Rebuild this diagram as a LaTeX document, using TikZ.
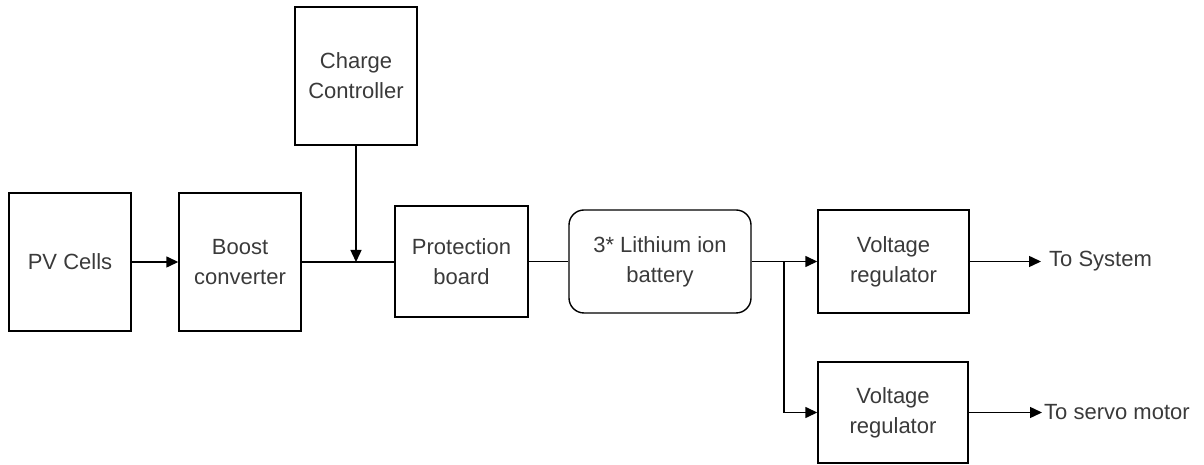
\documentclass[tikz,border=0pt]{standalone}
\usepackage{fontspec}
\setmainfont{Liberation Sans}
\usetikzlibrary{arrows.meta}
\definecolor{txt}{HTML}{3A3A3A}
\begin{document}
\begin{tikzpicture}[x=1pt,y=1pt,
  blk/.style={draw=black, line width=1.4pt, align=center, inner sep=0pt,
    font=\fontsize{22}{30}\selectfont, text=txt},
  wire/.style={line width=1.4pt, draw=black},
  arr/.style={wire, -{Triangle[length=12pt,width=11pt]}},
  lbl/.style={font=\fontsize{22}{30}\selectfont, text=txt, inner sep=0pt, anchor=west}]
\useasboundingbox (0,0) rectangle (1204,465);
\node[blk, minimum width=122, minimum height=138] (pv) at (70,203) {PV Cells};
\node[blk, minimum width=122, minimum height=138] (boost) at (240,203) {Boost\\converter};
\node[blk, minimum width=122, minimum height=138] (cc) at (356,389) {Charge\\Controller};
\node[blk, minimum width=133, minimum height=111] (prot) at (461.5,203.5) {Protection\\board};
\node[blk, rounded corners=15pt, minimum width=182, minimum height=103] (bat) at (660,203.5) {3* Lithium ion\\battery};
\node[blk, minimum width=151, minimum height=103] (vr1) at (893.5,203.5) {Voltage\\regulator};
\node[blk, minimum width=150, minimum height=101] (vr2) at (893,52.5) {Voltage\\regulator};
\coordinate (j) at (356,203);
\coordinate (br) at (784,203.5);
\coordinate (e1) at (1041,203.5);
\coordinate (e2) at (1042,52.5);
\draw[arr] (pv.east) -- (boost.west |- pv.east);
\draw[wire] (boost.east) -- (prot.west |- boost.east);
\draw[arr] (cc.south) -- (j);
\draw[wire] (prot.east) -- (bat.west);
\draw[arr] (bat.east) -- (vr1.west);
\draw[arr] (br) |- (vr2.west);
\draw[arr] (vr1.east) -- (e1);
\draw[arr] (vr2.east) -- (e2);
\node[lbl] (t1) at (1049,203.5) {To System};
\node[lbl] (t2) at (1044,52.5) {To servo motor};
\end{tikzpicture}
\end{document}
